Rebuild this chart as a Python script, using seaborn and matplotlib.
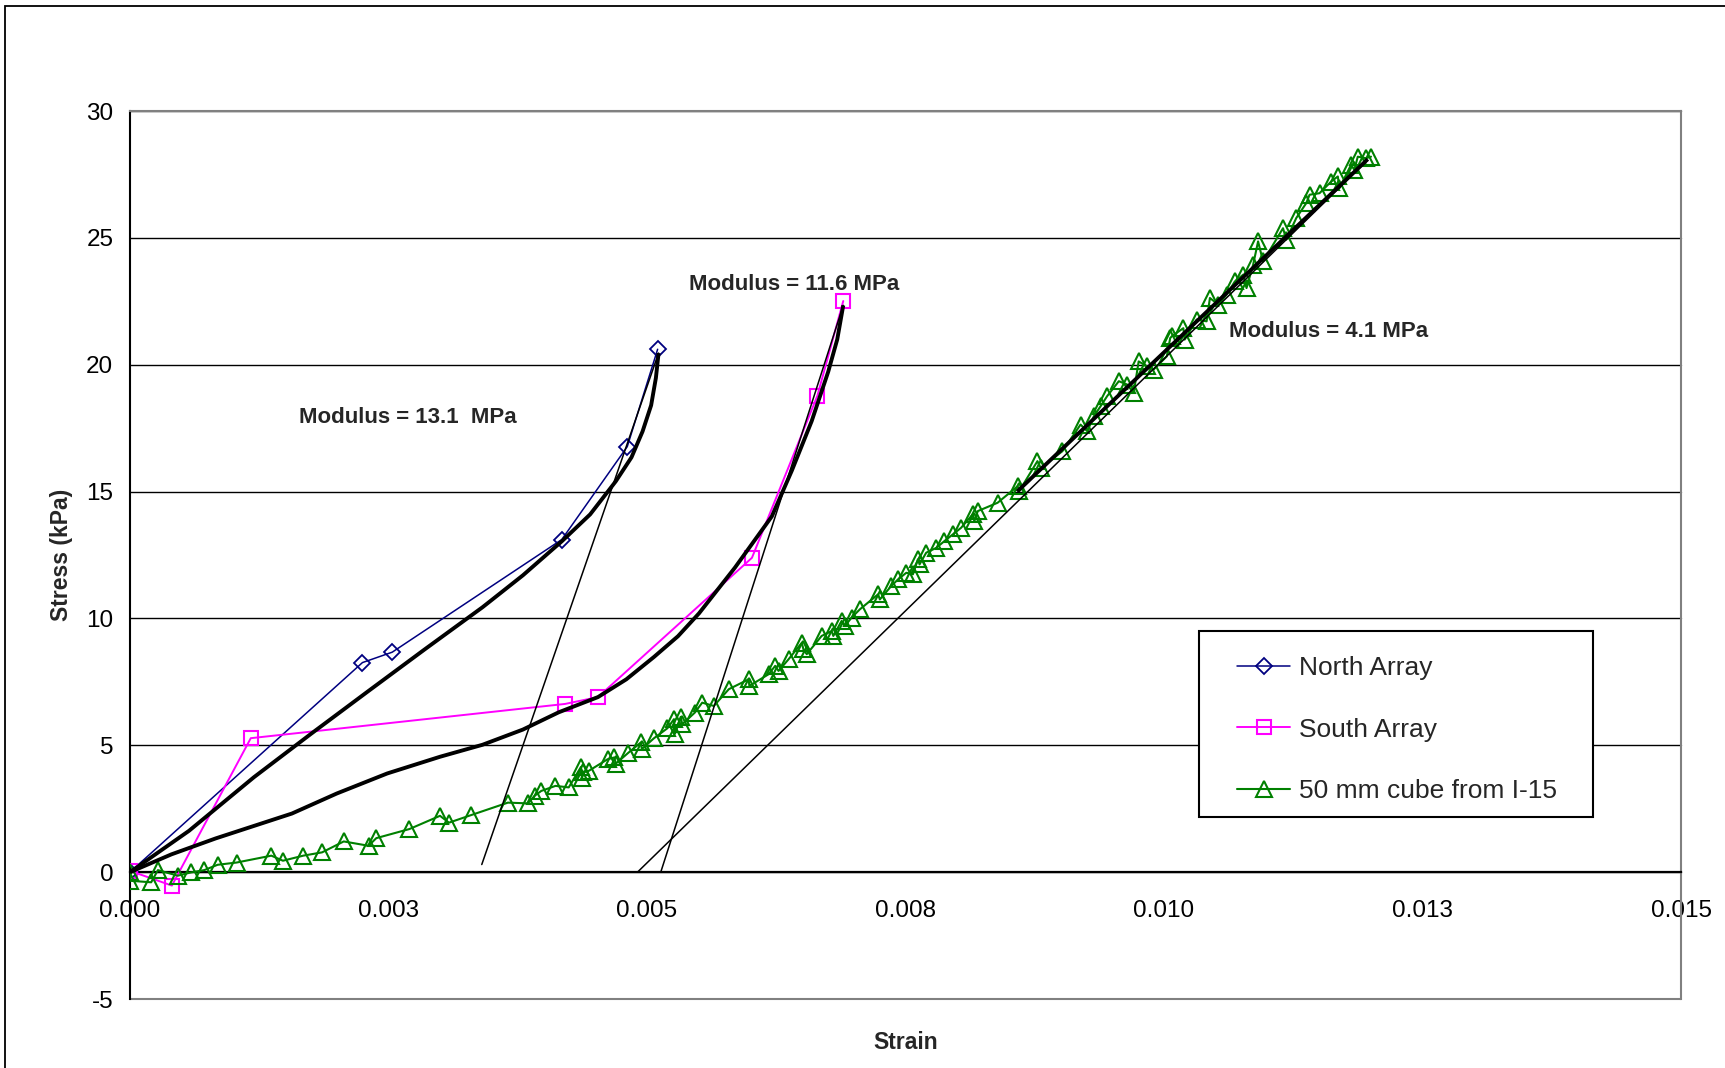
import seaborn as sns
import matplotlib.pyplot as plt
from matplotlib.patches import Rectangle
import numpy as np

# --- data ---
north_x = [0.0, 0.002248, 0.002536, 0.004176, 0.004809, 0.005103]
north_y = [0.0, 8.26, 8.67, 13.11, 16.77, 20.61]

south_x = [0.0, 0.000405, 0.001168, 0.004208, 0.004526, 0.006015, 0.006648, 0.006898]
south_y = [0.05, -0.53, 5.28, 6.63, 6.90, 12.39, 18.78, 22.51]

cube_x = [0.0, 0.0, 0.000205, 0.000270, 0.000462, 0.000590, 0.000718, 0.000847, 0.001033,
          0.001367, 0.001479, 0.001676, 0.001858, 0.002067, 0.002307, 0.002382, 0.002703,
          0.002998, 0.003085, 0.003300, 0.003655, 0.003848, 0.003913, 0.003977, 0.004115,
          0.004243, 0.004362, 0.004372, 0.004378, 0.004436, 0.004619, 0.004683, 0.004699,
          0.004821, 0.004940, 0.004950, 0.005068, 0.005197, 0.005261, 0.005271, 0.005326,
          0.005341, 0.005463, 0.005534, 0.005646, 0.005791, 0.005983, 0.005990, 0.006176,
          0.006240, 0.006272, 0.006369, 0.006497, 0.006513, 0.006545, 0.006689, 0.006786,
          0.006802, 0.006882, 0.006914, 0.006978, 0.007059, 0.007235, 0.007252, 0.007363,
          0.007428, 0.007508, 0.007572, 0.007620, 0.007636, 0.007700, 0.007797, 0.007877,
          0.007957, 0.008037, 0.008150, 0.008166, 0.008199, 0.008391, 0.008584, 0.008600,
          0.008776, 0.008808, 0.009017, 0.009193, 0.009258, 0.009322, 0.009386, 0.009450,
          0.009563, 0.009643, 0.009707, 0.009755, 0.009835, 0.009899, 0.010027, 0.010060,
          0.010075, 0.010187, 0.010200, 0.010316, 0.010412, 0.010444, 0.010525, 0.010605,
          0.010685, 0.010766, 0.010798, 0.010862, 0.010910, 0.010958, 0.011151, 0.011183,
          0.011279, 0.011376, 0.011408, 0.011504, 0.011617, 0.011681, 0.011697, 0.011809,
          0.011841, 0.011874, 0.011954, 0.012002]
cube_y = [0.0, -0.34, -0.40, 0.08, -0.14, -0.01, 0.08, 0.29, 0.38,
          0.65, 0.45, 0.65, 0.78, 1.21, 1.04, 1.34, 1.70,
          2.22, 1.95, 2.25, 2.74, 2.71, 3.01, 3.20, 3.40,
          3.34, 4.15, 3.70, 3.93, 3.99, 4.45, 4.52, 4.28,
          4.71, 5.11, 4.85, 5.28, 5.67, 6.03, 5.46, 6.12,
          5.83, 6.29, 6.68, 6.55, 7.21, 7.60, 7.34, 7.80,
          8.13, 7.93, 8.39, 9.04, 8.78, 8.59, 9.31, 9.50,
          9.31, 9.90, 9.70, 10.03, 10.36, 10.95, 10.75, 11.28,
          11.54, 11.80, 11.74, 12.33, 12.13, 12.59, 12.78, 13.05,
          13.31, 13.57, 14.10, 13.83, 14.23, 14.56, 15.21, 15.02,
          16.20, 15.93, 16.59, 17.64, 17.38, 17.97, 18.36, 18.76,
          19.35, 19.22, 18.89, 20.13, 19.94, 19.81, 20.33, 21.05,
          21.12, 21.44, 20.99, 21.78, 21.71, 22.63, 22.37, 22.76,
          23.28, 23.55, 23.02, 23.94, 24.86, 24.07, 25.38, 24.93,
          25.78, 26.37, 26.70, 26.76, 27.22, 27.42, 26.96, 27.88,
          27.68, 28.20, 28.14, 28.20]

# fitted trend curves (thick black)
north_fit_x = [0.0, 0.000571, 0.001198, 0.001750, 0.002303, 0.002850, 0.003409, 0.003800,
               0.004176, 0.004450, 0.004699, 0.004850, 0.004957, 0.005040, 0.005086, 0.005112]
north_fit_y = [0.0, 1.63, 3.74, 5.45, 7.13, 8.78, 10.44, 11.70,
               13.04, 14.10, 15.41, 16.35, 17.37, 18.40, 19.48, 20.46]
south_fit_x = [0.0, 0.000400, 0.000829, 0.001566, 0.002000, 0.002488, 0.003000, 0.003409,
               0.003800, 0.004146, 0.004526, 0.004800, 0.005067, 0.005300, 0.005503, 0.005850,
               0.006207, 0.006400, 0.006592, 0.006753, 0.006840, 0.006898]
south_fit_y = [0.0, 0.70, 1.33, 2.31, 3.10, 3.89, 4.55, 5.02,
               5.62, 6.30, 6.90, 7.60, 8.48, 9.30, 10.20, 12.00,
               14.02, 15.82, 17.77, 19.73, 21.00, 22.34]
cube_fit_x = [0.00858, 0.01197]
cube_fit_y = [15.0, 28.1]

# modulus tangent lines (thin black)
north_tan_x = [0.003402, 0.005112]
north_tan_y = [0.30, 20.46]
south_tan_x = [0.005133, 0.006898]
south_tan_y = [0.0, 22.34]
cube_tan_x = [0.004908, 0.01197]
cube_tan_y = [0.0, 28.06]

x_ticks = [0.0, 0.0025, 0.005, 0.0075, 0.01, 0.0125, 0.015]
x_tick_labels = ["0.000", "0.003", "0.005", "0.008", "0.010", "0.013", "0.015"]
y_ticks = [-5, 0, 5, 10, 15, 20, 25, 30]

# --- style ---
sns.set_style("white")
plt.rcParams['font.family'] = ['Liberation Sans', 'DejaVu Sans']
plt.rcParams['axes.unicode_minus'] = False

fig = plt.figure(figsize=(17.25, 10.68), dpi=100)
ax = fig.add_axes([130 / 1725, 1 - 999 / 1068, 1551 / 1725, 888 / 1068])

sns.lineplot(x=north_x, y=north_y, ax=ax, sort=False, estimator=None, color="#000080",
             linewidth=1.1, marker="D", markersize=8.5, markerfacecolor="none",
             markeredgecolor="#000080", markeredgewidth=1.3, label="North Array", zorder=3)
sns.lineplot(x=south_x, y=south_y, ax=ax, sort=False, estimator=None, color="#FF00FF",
             linewidth=1.4, marker="s", markersize=10, markerfacecolor="none",
             markeredgecolor="#FF00FF", markeredgewidth=1.5, label="South Array", zorder=3)
sns.lineplot(x=cube_x, y=cube_y, ax=ax, sort=False, estimator=None, color="#008000",
             linewidth=1.5, marker="^", markersize=11, markerfacecolor="none",
             markeredgecolor="#008000", markeredgewidth=1.5, label="50 mm cube from I-15", zorder=3)

for fx, fy in [(north_fit_x, north_fit_y), (south_fit_x, south_fit_y), (cube_fit_x, cube_fit_y)]:
    ax.plot(fx, fy, color="black", linewidth=2.8, zorder=4, solid_capstyle="butt",
            solid_joinstyle="round")
for tx, ty in [(north_tan_x, north_tan_y), (south_tan_x, south_tan_y), (cube_tan_x, cube_tan_y)]:
    ax.plot(tx, ty, color="black", linewidth=1.1, zorder=4)

ax.set_xlim(0, 0.015)
ax.set_ylim(-5, 30)
ax.set_xticks(x_ticks)
ax.set_xticklabels(x_tick_labels)
ax.set_yticks(y_ticks)

ax.yaxis.grid(True, color="black", linewidth=1.0)
ax.xaxis.grid(False)
for gl in ax.get_ygridlines():
    gl.set_clip_on(False)
# bottom edge of the plot area is the gray border, not a black gridline
ax.get_ygridlines()[0].set_color("#808080")
ax.get_ygridlines()[0].set_linewidth(1.5)

for side in ["top", "right"]:
    ax.spines[side].set_color("#808080")
    ax.spines[side].set_linewidth(1.5)
ax.spines["left"].set_color("black")
ax.spines["left"].set_linewidth(1.5)
ax.spines["bottom"].set_position(("data", 0))
ax.spines["bottom"].set_color("black")
ax.spines["bottom"].set_linewidth(1.6)
ax.spines["bottom"].set_zorder(2.6)

ax.tick_params(axis="x", direction="out", length=6, width=1.5, labelsize=17.5, pad=14, colors="black")
ax.tick_params(axis="y", direction="out", length=6, width=1.5, labelsize=17.5, pad=6, colors="black")

ax.set_xlabel("Strain", fontsize=16.5, fontweight="bold")
ax.set_ylabel("Stress (kPa)", fontsize=16.5, fontweight="bold")
ax.xaxis.set_label_coords(0.5, -0.036)
ax.yaxis.set_label_coords(-0.037, 0.5)

ax.text(0.00163, 17.93, "Modulus = 13.1  MPa", fontsize=16, fontweight="bold", ha="left", va="center")
ax.text(0.005403, 23.18, "Modulus = 11.6 MPa", fontsize=16, fontweight="bold", ha="left", va="center")
ax.text(0.010625, 21.31, "Modulus = 4.1 MPa", fontsize=16, fontweight="bold", ha="left", va="center")

# legend box
ax.add_patch(Rectangle((0.689, 0.205), 0.254, 0.209, transform=ax.transAxes,
                       facecolor="white", edgecolor="black", linewidth=1.5, zorder=5))
leg = ax.legend(loc="upper left", bbox_to_anchor=(0.714, 0.386), frameon=False,
                fontsize=19, borderpad=0, borderaxespad=0, handlelength=2.0,
                handletextpad=0.35, labelspacing=1.42)
leg.set_zorder(6)

# chart area border (top/left visible)
fig.add_artist(Rectangle((5 / 1725, -0.1), 1.2, 1.1 - 6 / 1068, transform=fig.transFigure,
                         facecolor="none", edgecolor="black", linewidth=1.3))

fig.savefig("out.png", dpi=100)
plt.close(fig)
